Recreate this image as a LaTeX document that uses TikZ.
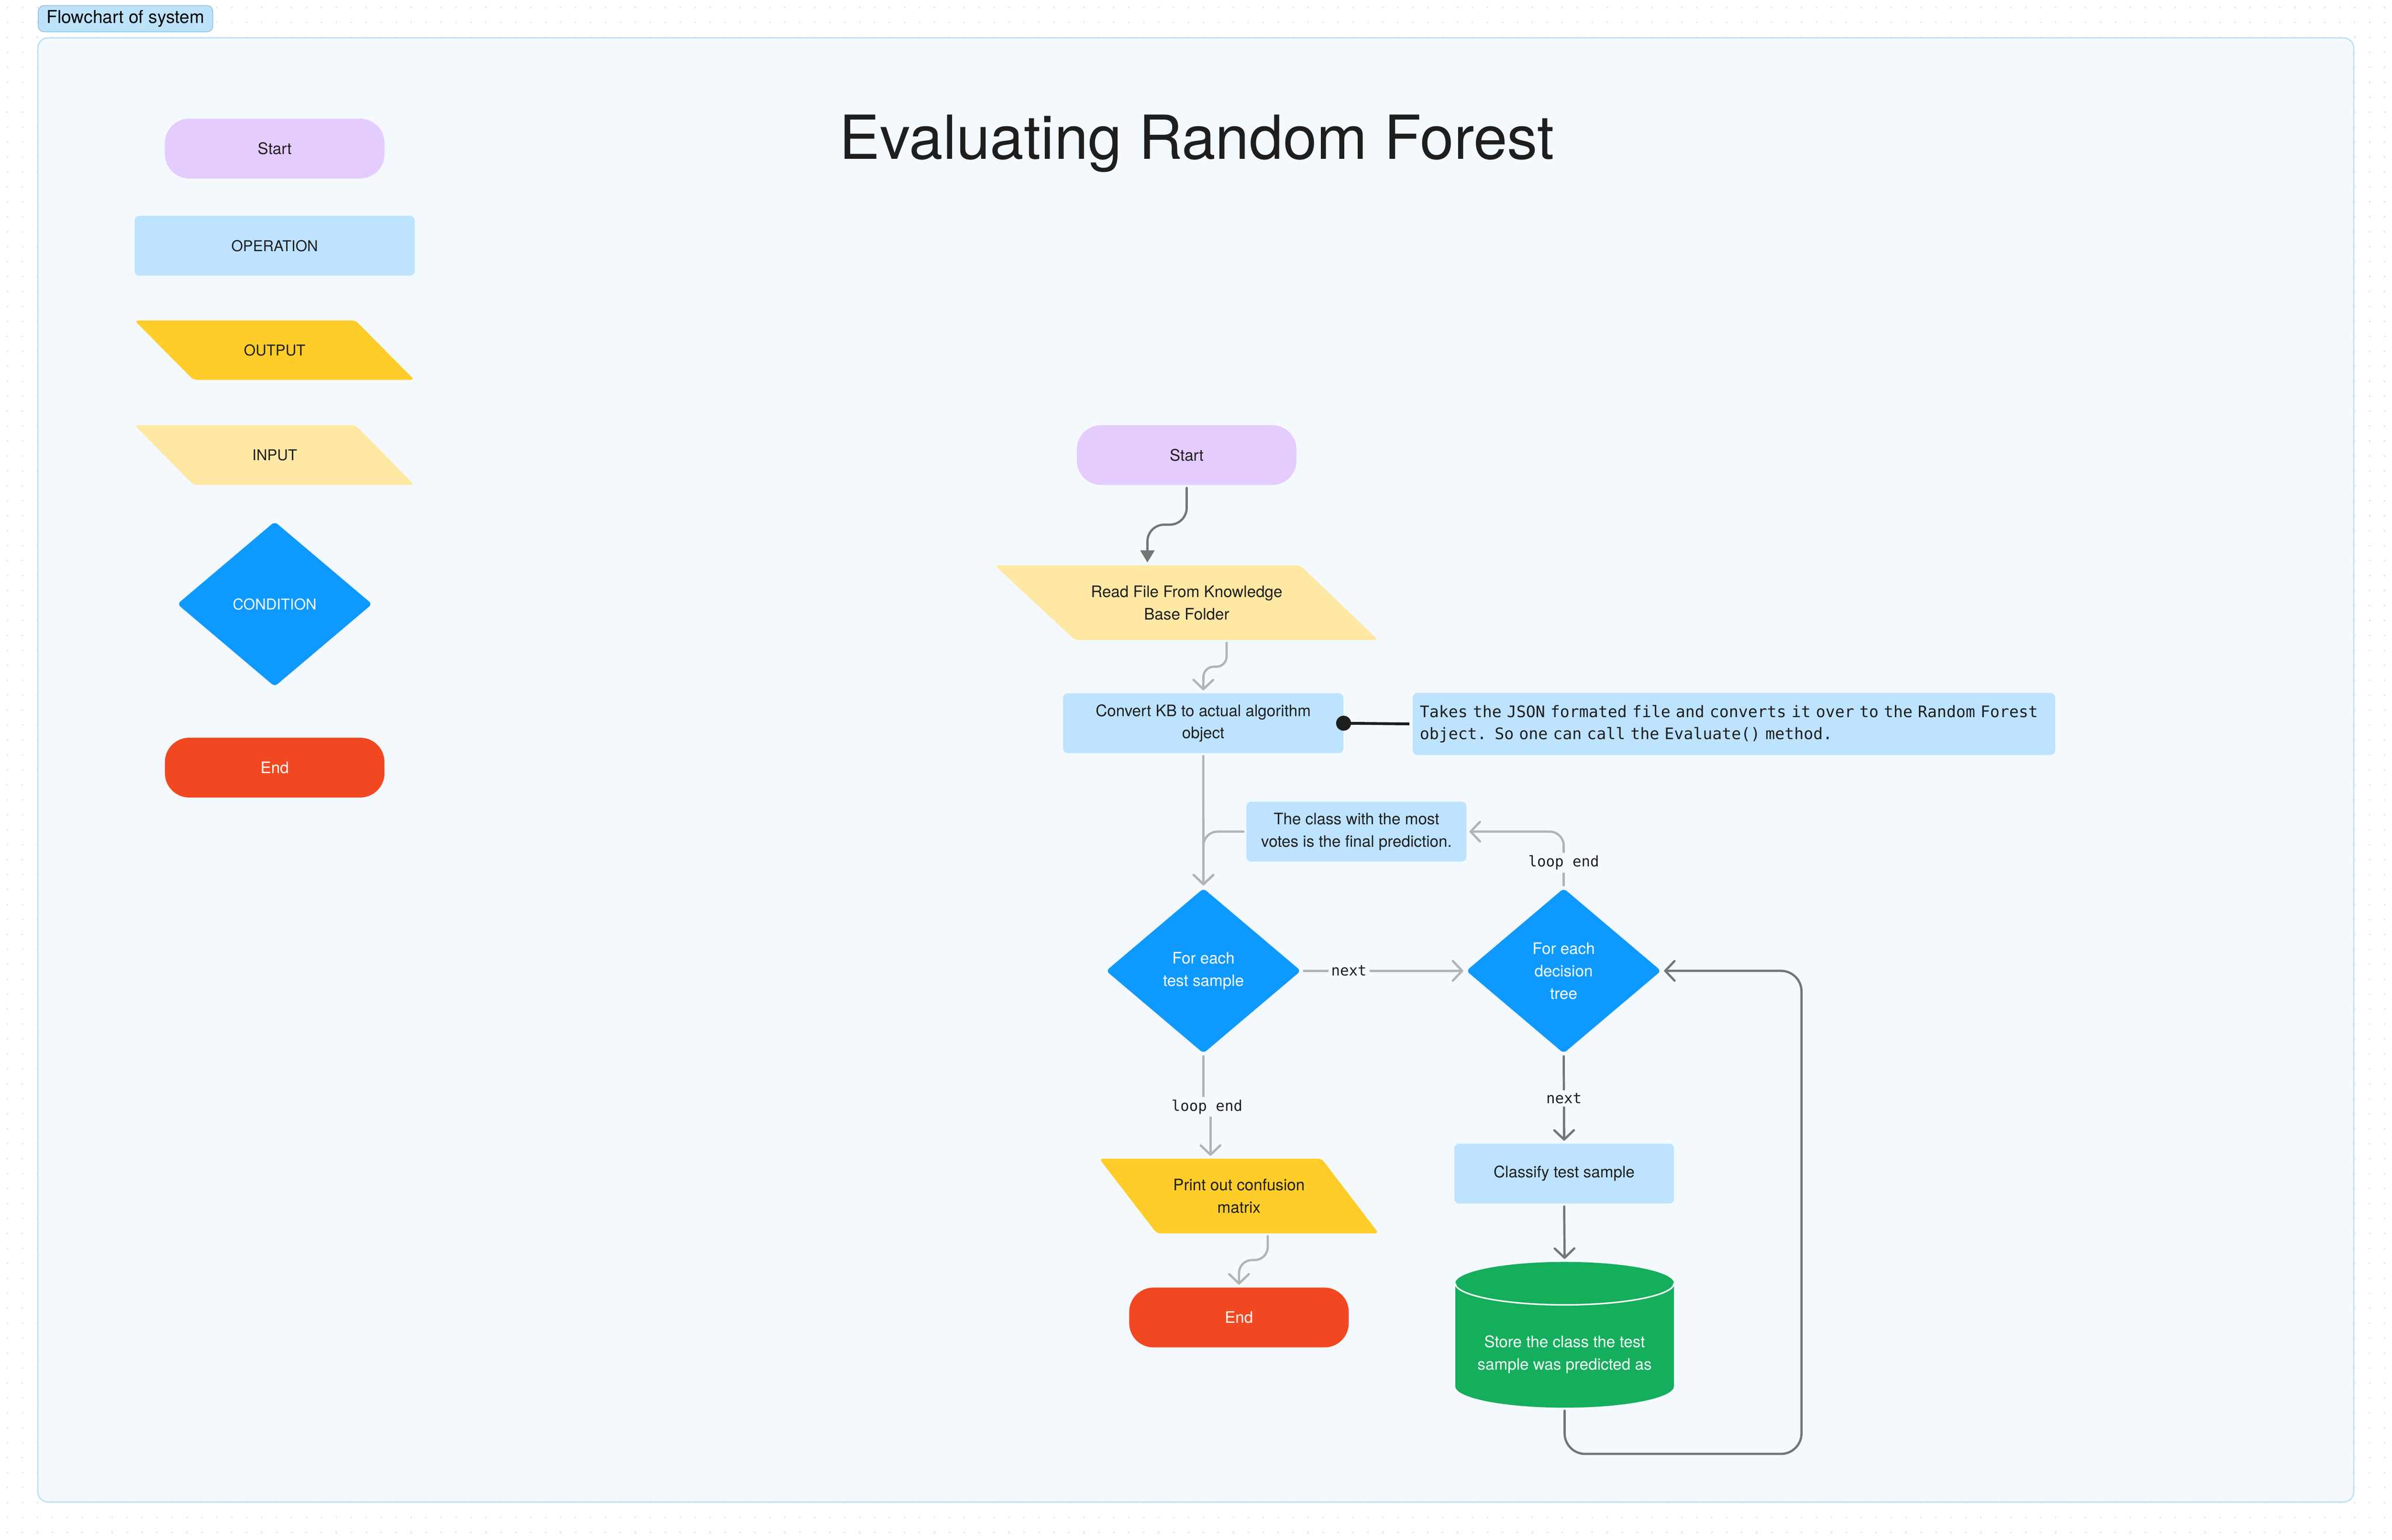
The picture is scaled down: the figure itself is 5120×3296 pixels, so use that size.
\documentclass[tikz,border=0pt]{standalone}
\usepackage{fontspec}
\setmainfont{TeX Gyre Heros}
\newfontfamily\monofont{DejaVu Sans Mono}
\usetikzlibrary{shapes.geometric, arrows.meta}
\definecolor{ink}{HTML}{1E1E1E}
\definecolor{dotc}{HTML}{E3E3E3}
\definecolor{framebg}{HTML}{F4F9FE}
\definecolor{frameline}{HTML}{BDE3FA}
\definecolor{ctag}{HTML}{BDE3FA}
\definecolor{ctagb}{HTML}{9CC8E8}
\definecolor{cviolet}{HTML}{E4CCFF}
\definecolor{cblue}{HTML}{BDE3FF}
\definecolor{cyellow}{HTML}{FFCD29}
\definecolor{cpale}{HTML}{FFE8A3}
\definecolor{ccond}{HTML}{0D99FF}
\definecolor{cred}{HTML}{F24822}
\definecolor{cgreen}{HTML}{14AE5C}
\definecolor{cdark}{HTML}{757575}
\definecolor{clight}{HTML}{B3B3B3}
\begin{document}
\begin{tikzpicture}[x=0.5pt, y=-0.5pt,
  txt/.style={font=\fontsize{17}{24}\selectfont, text=ink, align=center},
  legtxt/.style={font=\fontsize{16}{24}\selectfont},
  pill/.style={txt, fill=#1, rounded corners=26pt, minimum width=235pt, minimum height=64pt, inner sep=0pt},
  box/.style={txt, fill=#1, rounded corners=5pt, minimum height=64pt, inner sep=0pt},
  cond/.style={diamond, fill=ccond, text=white, minimum width=208.5pt, minimum height=176.5pt, inner sep=0pt, rounded corners=4pt, font=\fontsize{17}{24}\selectfont, align=center},
  mono/.style={font=\monofont\fontsize{15.75}{24}\selectfont, text=ink},
  notemono/.style={font=\monofont\fontsize{17}{24}\selectfont, text=ink},
  lbl/.style={mono, fill=framebg, inner sep=3pt},
  conn/.style={line width=2.4pt, line cap=round, shorten <=3pt, shorten >=3pt},
  light/.style={conn, draw=clight},
  dark/.style={conn, draw=cdark},
  open/.style={-{Straight Barb[length=10pt,width=21pt,round]}}
]
\useasboundingbox (0,0) rectangle (5120,3296);
\fill[white] (0,0) rectangle (5120,3296);
% dotted canvas
\foreach \x in {16,48,...,5104} {\foreach \y in {16,48,80,3216,3248,3280} {\fill[dotc] (\x,\y) circle (1pt);}}
\foreach \y in {112,144,...,3184} {\foreach \x in {16,48,80,5040,5072,5104} {\fill[dotc] (\x,\y) circle (1pt);}}
% frame
\draw[fill=framebg, draw=frameline, line width=1.5pt, rounded corners=11pt] (81,81) rectangle (5038,3215);
\node[fill=ctag, draw=ctagb, line width=1pt, rounded corners=6pt, minimum height=28pt, inner xsep=9pt, anchor=west, font=\fontsize{19}{22}\selectfont, text=black] (tag) at (81,40) {Flowchart of system};
% title
\node[font=\fontsize{65}{78}\selectfont, text=ink, anchor=base] (title) at (2562,340) {Evaluating Random Forest};
% legend
\node[pill=cviolet] (lstart) at (588,318) {Start};
\node[box=cblue, legtxt, minimum width=300pt] (lop) at (588,526) {OPERATION};
\fill[cyellow, rounded corners=4pt] (288,686) -- (761,686) -- (887,813) -- (414,813) -- cycle;
\node[txt, legtxt] (lout) at (588,750) {OUTPUT};
\fill[cpale, rounded corners=4pt] (288,910) -- (761,910) -- (887,1038) -- (414,1038) -- cycle;
\node[txt, legtxt] (lin) at (588,974) {INPUT};
\node[cond, legtxt] (lcond) at (588,1293) {CONDITION};
\node[pill=cred, text=white] (lend) at (588,1643) {End};
% main flow
\node[pill=cviolet] (start) at (2540,974) {Start};
\fill[cpale, rounded corners=4pt] (2129,1210) -- (2783,1210) -- (2950,1370) -- (2301,1370) -- cycle;
\node[txt] (read) at (2540,1290) {Read File From Knowledge\\Base Folder};
\coordinate (read-t) at (2456,1210);
\coordinate (read-b) at (2625.5,1370);
\node[box=cblue, minimum width=300pt] (convert) at (2575.5,1548) {Convert KB to actual algorithm\\object};
\node[box=cblue, notemono, minimum width=687.5pt, minimum height=66.5pt, inner xsep=7.5pt, text width=672.5pt, align=left] (note1) at (3711.5,1549.5) {Takes the JSON formated file and converts it over to the Random Forest\\object. So one can call the Evaluate() method.};
\node[box=cblue, minimum width=235.5pt] (note2) at (2903.5,1780) {The class with the most\\votes is the final prediction.};
\node[cond] (d1) at (2576,2078) {For each\\test sample};
\node[cond] (d2) at (3347,2078) {For each\\decision\\tree};
\node[box=cblue, minimum width=235pt] (classify) at (3348,2512) {Classify test sample};
% cylinder
\fill[cgreen] (3115,2747) .. controls (3115,2721.6) and (3219.8,2701) .. (3349,2701) .. controls (3478.2,2701) and (3583,2721.6) .. (3583,2747) -- (3583,2967) .. controls (3583,2992.4) and (3478.2,3013) .. (3349,3013) .. controls (3219.8,3013) and (3115,2992.4) .. (3115,2967) -- cycle;
\draw[white, line width=1.6pt] (3115,2747) .. controls (3115,2772.4) and (3219.8,2793) .. (3349,2793) .. controls (3478.2,2793) and (3583,2772.4) .. (3583,2747);
\node[minimum width=234pt, minimum height=156pt, inner sep=0pt] (store) at (3349,2857) {};
\node[txt, text=white] (storelbl) at (3349,2899) {Store the class the test\\sample was predicted as};
\fill[cyellow, rounded corners=4pt] (2353,2480) -- (2829,2480) -- (2951,2640) -- (2476,2640) -- cycle;
\node[txt] (print) at (2652,2560) {Print out confusion\\matrix};
\coordinate (print-t) at (2591,2480);
\coordinate (print-b) at (2713.5,2640);
\node[pill=cred, text=white] (mend) at (2652,2820) {End};
% connectors
\draw[dark, -{Triangle[length=13pt,width=15pt]}, rounded corners=18pt] (start.south) -- (2540,1123) -- (2456,1123) -- (read-t);
\draw[light, open, rounded corners=11pt] (read-b) -- (2625.5,1427) -- (2576,1427) -- (convert.north);
\draw[ink, line width=3pt, shorten >=3.5pt] (convert.east) -- (note1.west);
\fill[ink] (convert.east) circle (8pt);
\draw[light, open] (convert.south) -- (d1.north);
\draw[light, open, rounded corners=15pt] (note2.west) -- (2576,1780) -- (d1.north);
\draw[light, open, rounded corners=15pt] (d2.north) -- node[lbl, pos=0.45] {loop end} (3347,1780) -- (note2.east);
\draw[light, open] (d1.east) -- node[lbl, pos=0.29] {next} (d2.west);
\draw[light, open] (d1.south) -- (2576,2369) -- node[lbl] {loop end} (2591,2369) -- (print-t);
\draw[dark, open] (d2.south) -- node[lbl] {next} (classify.north);
\draw[dark, open] (classify.south) -- (store.north);
\draw[dark, open, rounded corners=22pt] (store.south) -- (3349,3112) -- (3856,3112) -- (3856,2078) -- (d2.east);
\draw[light, open, rounded corners=14pt] (print-b) -- (2713.5,2697) -- (2652,2697) -- (mend.north);
\end{tikzpicture}
\end{document}
